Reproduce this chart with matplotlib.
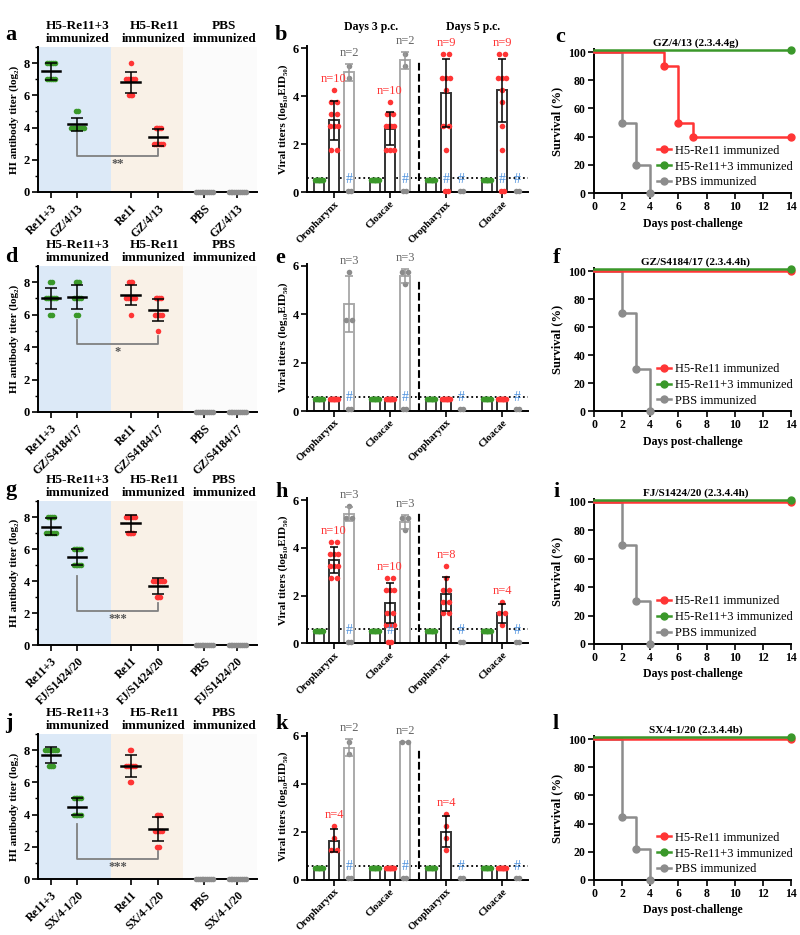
import numpy as np
import matplotlib
matplotlib.use('Agg')
import matplotlib.pyplot as plt
from matplotlib.lines import Line2D
from matplotlib.ticker import MultipleLocator

plt.rcParams['font.family'] = ['Liberation Serif', 'DejaVu Serif']
plt.rcParams['font.weight'] = 'bold'
plt.rcParams['axes.labelweight'] = 'bold'
plt.rcParams['axes.linewidth'] = 1.4
plt.rcParams['xtick.major.width'] = 1.2
plt.rcParams['ytick.major.width'] = 1.2
plt.rcParams['ytick.minor.width'] = 1.0
plt.rcParams['xtick.major.size'] = 4
plt.rcParams['ytick.major.size'] = 4
plt.rcParams['ytick.minor.size'] = 2.5

GREEN = '#3a982a'
RED = '#ff3535'
GRAY = '#8c8c8c'
HASH = '#4b8fdc'

# ---------------- HI antibody titers (log2) ----------------
strains = ['GZ/4/13', 'GZ/S4184/17', 'FJ/S1424/20', 'SX/4-1/20']
hi_headers = ['H5-Re11+3\nimmunized', 'H5-Re11\nimmunized', 'PBS\nimmunized']

hi_a = [[8, 8, 8, 8, 8, 7, 7, 7, 7, 7], [5, 5, 4, 4, 4, 4, 4, 4, 4, 4],
        [8, 7, 7, 7, 7, 7, 7, 6, 6, 6], [4, 4, 4, 4, 3, 3, 3, 3, 3, 3],
        [0] * 10, [0] * 10]
hi_d = [[8, 8, 7, 7, 7, 7, 7, 7, 6, 6], [8, 8, 8, 7, 7, 7, 7, 7, 6, 6],
        [8, 8, 8, 7, 7, 7, 7, 7, 7, 6], [7, 7, 7, 7, 6, 6, 6, 6, 6, 5],
        [0] * 10, [0] * 10]
hi_g = [[8, 8, 8, 8, 7, 7, 7, 7, 7, 7], [6, 6, 6, 6, 6, 5, 5, 5, 5, 5],
        [8, 8, 8, 8, 8, 8, 7, 7, 7, 7], [4, 4, 4, 4, 4, 4, 4, 3, 3, 3],
        [0] * 10, [0] * 10]
hi_j = [[8, 8, 8, 8, 8, 8, 8, 7, 7, 7], [5, 5, 5, 5, 5, 4, 4, 4, 4, 4],
        [8, 8, 7, 7, 7, 7, 7, 7, 6, 6], [4, 4, 4, 3, 3, 3, 3, 3, 2, 2],
        [0] * 10, [0] * 10]
# bracket: green leg top, base, red leg top
sig_a = [3.8, 2.25, 2.7]
sig_d = [5.7, 4.22, 4.68]
sig_g = [4.32, 2.15, 2.6]
sig_j = [3.42, 1.27, 1.75]
sig_labels = ['**', '*', '***', '***']

# ---------------- viral titers (log10 EID50) ----------------
sites = ['Oropharynx', 'Cloacae', 'Oropharynx', 'Cloacae']
green_row = [0.5] * 10

b_red = [[4.25, 3.75, 3.75, 3.25, 3.25, 2.75, 2.75, 2.75, 1.75, 1.75],
         [3.75, 3.25, 3.25, 2.75, 2.75, 2.75, 2.75, 1.75, 1.75, 1.75],
         [5.75, 5.75, 4.75, 4.75, 4.75, 4.25, 2.75, 2.75, 1.75],
         [5.75, 5.75, 4.75, 4.75, 4.75, 4.25, 3.75, 2.75, 1.75]]
b_gray = [[5.25, 4.75], [5.75, 5.25], [], []]
b_dead = [[2], [2], [1, 2], [1, 2]]

e_red = [[0.5] * 10, [0.5] * 10, [0.5] * 10, [0.5] * 10]
e_gray = [[5.75, 3.75, 3.75], [5.75, 5.75, 5.25], [], []]
e_dead = [[2], [2], [2], [2]]

h_red = [[4.25, 4.25, 3.75, 3.75, 3.75, 3.25, 3.25, 3.25, 2.75, 2.75],
         [2.75, 2.75, 2.25, 2.25, 2.25, 1.25, 1.25, 0.75, 0.75, 0.75],
         [3.25, 2.75, 2.25, 2.25, 1.75, 1.75, 1.25, 1.25],
         [1.75, 1.25, 1.25, 0.75]]
h_gray = [[5.75, 5.25, 5.25], [5.25, 5.25, 4.75], [], []]
h_dead = [[2], [1], [2], [2]]

k_red = [[2.25, 1.75, 1.25, 1.25], [0.5] * 10, [2.75, 2.25, 1.75, 1.25], [0.5] * 10]
k_gray = [[5.75, 5.25], [5.75, 5.75], [], []]
k_dead = [[2], [2], [2], [2]]

# ---------------- survival (%) ----------------
surv_titles = ['GZ/4/13 (2.3.4.4g)', 'GZ/S4184/17 (2.3.4.4h)',
               'FJ/S1424/20 (2.3.4.4h)', 'SX/4-1/20 (2.3.4.4b)']
surv_labels = ['H5-Re11 immunized', 'H5-Re11+3 immunized', 'PBS immunized']
red_days = [[0, 5, 6, 7, 14], [0, 14], [0, 14], [0, 14]]
red_surv = [[100, 90, 50, 40, 40], [100, 100], [100, 100], [100, 100]]
green_days = [[0, 14], [0, 14], [0, 14], [0, 14]]
green_surv = [[100, 100], [100, 100], [100, 100], [100, 100]]
gray_days = [[0, 2, 3, 4], [0, 2, 3, 4], [0, 2, 3, 4], [0, 2, 3, 4]]
gray_surv = [[100, 50, 20, 0], [100, 70, 30, 0], [100, 70, 30, 0], [100, 44.4, 22.2, 0]]

W, H = 800, 935
fig = plt.figure(figsize=(8, 9.35), dpi=100)


def add_ax(left, top, right, bottom):
    return fig.add_axes([left / W, 1 - bottom / H, (right - left) / W, (bottom - top) / H])


def swarm(vals, step, maxw=None):
    vals = np.asarray(vals, float)
    xs = np.zeros(len(vals))
    for v in np.unique(vals):
        idx = np.where(vals == v)[0]
        k = len(idx)
        st = step
        if maxw is not None and k > 1:
            st = min(step, maxw / (k - 1))
        xs[idx] = (np.arange(k) - (k - 1) / 2) * st
    return xs


hi_x = [0.47, 1.44, 3.38, 4.4, 6.08, 7.28]
hi_edges = [0, 2.67, 5.3, 8]
bg_cols = ['#dce9f7', '#f9f1e7', '#fbfbfb']


def hi_panel(ax, data, strain, sig, star):
    for lo, hi_, c in zip(hi_edges[:-1], hi_edges[1:], bg_cols):
        ax.axvspan(lo, hi_, color=c, lw=0, zorder=0)
    cols = [GREEN, GREEN, RED, RED, GRAY, GRAY]
    for x, vals, c in zip(hi_x, data, cols):
        ax.scatter(x + swarm(vals, 0.07), vals, s=16, color=c, lw=0, zorder=3, clip_on=False)
        if c != GRAY:
            m, sd = np.mean(vals), np.std(vals, ddof=1)
            ax.plot([x - 0.33, x + 0.33], [m, m], color='black', lw=1.8, zorder=5)
            ax.errorbar(x, m, yerr=sd, fmt='none', ecolor='black', elinewidth=1.1,
                        capsize=4.3, capthick=1.1, zorder=5)
    ax.plot([hi_x[1], hi_x[1], hi_x[3], hi_x[3]], [sig[0], sig[1], sig[1], sig[2]],
            color='#808080', lw=1.3, zorder=2)
    ax.text((hi_x[1] + hi_x[3]) / 2, sig[1] - 0.5, star, ha='center', va='center',
            fontsize=9, color='#555555')
    for fx, t in zip([0.18, 0.53, 0.85], hi_headers):
        ax.text(fx, 1.012, t, transform=ax.transAxes, ha='center', va='bottom',
                fontsize=9.5, linespacing=1.15)
    ax.set_xlim(0, 8)
    ax.set_ylim(0, 9)
    ax.set_xticks(hi_x)
    ax.set_xticklabels(['Re11+3', strain, 'Re11', strain, 'PBS', strain], rotation=45,
                       ha='right', rotation_mode='anchor', fontsize=8.5)
    ax.set_yticks([0, 2, 4, 6, 8])
    ax.yaxis.set_minor_locator(MultipleLocator(1))
    ax.tick_params(axis='y', labelsize=9, pad=2)
    ax.set_ylabel('HI antibody titer (log₂)', fontsize=8, labelpad=3)
    for s in ['top', 'right']:
        ax.spines[s].set_visible(False)


clusters = np.array([0, 3.73, 7.47, 11.2])


def bar_panel(ax, red, gray, dead, days_labels=False):
    for i, cx in enumerate(clusters):
        groups = [green_row, red[i], gray[i]]
        for m, (vals, col, edge) in enumerate(zip(groups, [GREEN, RED, GRAY],
                                                  ['#444444', '#333333', '#aaaaaa'])):
            x = cx + m - 1
            if len(vals) == 0:
                continue
            mean = np.mean(vals)
            ax.bar(x, mean, width=0.65, facecolor='white', edgecolor=edge, lw=1.4, zorder=2)
            sd = np.std(vals, ddof=1) if len(vals) > 1 else 0
            if sd > 0:
                ax.errorbar(x, mean, yerr=sd, fmt='none',
                            ecolor='black' if m == 1 else '#999999',
                            elinewidth=1.1, capsize=3, capthick=1.1, zorder=4)
            ax.scatter(x + swarm(vals, 0.4, 0.55), vals, s=16, color=col, lw=0, zorder=3)
            if max(vals) > 0.6:
                top = max(max(vals), mean + sd) + 0.45
                ax.text(x, top, 'n=%d' % len(vals), ha='center', va='center', fontsize=9,
                        fontweight='normal', color=RED if m == 1 else '#666666')
        for m in dead[i]:
            x = cx + m - 1
            ax.scatter([x - 0.1, x + 0.1], [0.07, 0.07], s=16, lw=0,
                       color=[GREEN, RED, GRAY][m], zorder=3, clip_on=False)
            ax.text(x, 0.55, '#', ha='center', va='center', fontsize=10,
                    fontweight='normal', color=HASH, zorder=6)
    ax.axhline(0.6, ls=(0, (1, 1.6)), color='black', lw=1.3, zorder=1)
    ax.plot([5.67, 5.67], [0, 5.45], ls='--', color='black', lw=1.5)
    if days_labels:
        ax.text(2.47, 6.9, 'Days 3 p.c.', ha='center', va='center', fontsize=8.5, clip_on=False)
        ax.text(9.27, 6.9, 'Days 5 p.c.', ha='center', va='center', fontsize=8.5, clip_on=False)
    ax.set_xlim(-1.8, 12.93)
    ax.set_ylim(0, 6.1)
    ax.set_xticks(clusters)
    ax.set_xticklabels(sites, rotation=45, ha='right', rotation_mode='anchor', fontsize=7.5)
    ax.tick_params(axis='x', pad=1)
    ax.set_yticks([0, 2, 4, 6])
    ax.tick_params(axis='y', labelsize=9, pad=2)
    ax.set_ylabel('Viral titers (log₁₀EID₅₀)', fontsize=8, labelpad=3)
    for s in ['top', 'right']:
        ax.spines[s].set_visible(False)


def surv_panel(ax, i):
    series = [(gray_days[i], gray_surv[i], GRAY, 0),
              (red_days[i], red_surv[i], RED, 0),
              (green_days[i], green_surv[i], GREEN, 1.2)]
    for z, (t, s, c, dy) in enumerate(series):
        ax.plot(t, np.array(s) + dy, drawstyle='steps-post', color=c, lw=1.8, marker='o',
                ms=5, markevery=list(range(1, len(t))), clip_on=False, zorder=3 + z)
    ax.set_xlim(0, 14)
    ax.set_ylim(0, 102)
    ax.set_xticks(range(0, 15, 2))
    ax.set_yticks(range(0, 101, 20))
    ax.tick_params(labelsize=8.5, pad=2)
    ax.set_ylabel('Survival (%)', fontsize=9, labelpad=3)
    ax.set_xlabel('Days post-challenge', fontsize=8.5, labelpad=3)
    ax.text(7.2, 106.5, surv_titles[i], ha='center', va='center', fontsize=8, clip_on=False)
    handles = [Line2D([], [], color=c, lw=1.8, marker='o', ms=5) for c in [RED, GREEN, GRAY]]
    ax.legend(handles, surv_labels, loc='upper left', bbox_to_anchor=(0.32, 0.335),
              frameon=False, handlelength=1.1, handletextpad=0.35, labelspacing=0.3,
              borderpad=0, borderaxespad=0,
              prop={'family': ['Liberation Serif', 'DejaVu Serif'], 'weight': 'normal', 'size': 9})
    for s in ['top', 'right']:
        ax.spines[s].set_visible(False)


hi_rows = [(47, 192), (266, 412), (501, 645), (734, 879)]
bar_rows = [(48.3, 192.3), (266, 411), (500, 643.3), (735.7, 880)]
surv_rows = [(52, 193), (271, 411), (502, 644), (739, 880)]

hi_data = [hi_a, hi_d, hi_g, hi_j]
sig_data = [sig_a, sig_d, sig_g, sig_j]
bar_data = [(b_red, b_gray, b_dead), (e_red, e_gray, e_dead),
            (h_red, h_gray, h_dead), (k_red, k_gray, k_dead)]

for r in range(4):
    top, bot = hi_rows[r]
    ax = add_ax(38, top, 257, bot)
    hi_panel(ax, hi_data[r], strains[r], sig_data[r], sig_labels[r])

    y6, y0 = bar_rows[r]
    top = y0 - (y0 - y6) * 6.1 / 6
    ax = add_ax(307, top, 528, y0)
    red, gray, dead = bar_data[r]
    bar_panel(ax, red, gray, dead, days_labels=(r == 0))

    y100, y0 = surv_rows[r]
    top = y0 - (y0 - y100) * 1.02
    ax = add_ax(594, top, 791, y0)
    surv_panel(ax, r)

letters = [('a', 5, 40), ('b', 275, 40), ('c', 555, 42),
           ('d', 5, 262), ('e', 275, 263), ('f', 553, 263),
           ('g', 5, 495), ('h', 275, 497), ('i', 553, 497),
           ('j', 5, 728), ('k', 275, 729), ('l', 553, 729)]
for t, x, y in letters:
    fig.text(x / W, 1 - y / H, t, fontsize=16, va='baseline')

fig.savefig('out.png', dpi=100)
